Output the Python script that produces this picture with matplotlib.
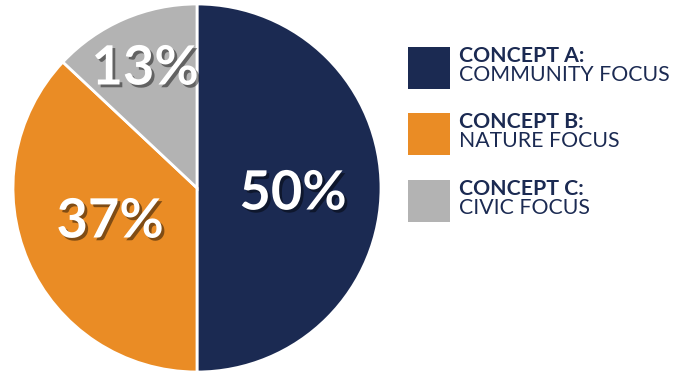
import matplotlib.pyplot as plt
import matplotlib.patheffects as pe
from matplotlib.patches import Rectangle

# data
shares = [50, 37, 13]
pct_labels = ['50%', '37%', '13%']
concepts = ['CONCEPT A:', 'CONCEPT B:', 'CONCEPT C:']
focus = ['COMMUNITY FOCUS', 'NATURE FOCUS', 'CIVIC FOCUS']
colors = ['#1B2A52', '#EA8C25', '#B3B3B3']
navy = '#1B2A52'

W, H = 681, 373
fig = plt.figure(figsize=(W / 100, H / 100), dpi=100)

# pie axes, centre (197, 188) px from top-left, radius 184 px
cx, cy, r = 197, 188, 184
ax = fig.add_axes([(cx - r) / W, (H - cy - r) / H, 2 * r / W, 2 * r / H])
wedges, _ = ax.pie(shares, colors=colors, startangle=90, counterclock=False,
                   radius=1.0, wedgeprops=dict(edgecolor='white', linewidth=2))
ax.set_xlim(-1, 1)
ax.set_ylim(-1, 1)
ax.set_aspect('equal')
ax.axis('off')

shadow = [pe.SimplePatchShadow(offset=(2, -2), shadow_rgbFace='black', alpha=0.45),
          pe.Normal()]
label_pos = [(293, 194), (110, 222), (145, 69)]
for txt, (px, py) in zip(pct_labels, label_pos):
    fig.text(px / W, 1 - py / H, txt, ha='center', va='center', color='white',
             fontsize=39, fontweight='bold', family='Lato', path_effects=shadow)

# legend
sq_tops = [47, 113, 180]
for top, col, c, f in zip(sq_tops, colors, concepts, focus):
    fig.patches.append(Rectangle((408 / W, 1 - (top + 42) / H), 42 / W, 42 / H,
                                 transform=fig.transFigure, facecolor=col,
                                 edgecolor='none'))
    fig.text(459 / W, 1 - (top + 9) / H, c, ha='left', va='center', color=navy,
             fontsize=15.3, fontweight='bold', family='Lato')
    fig.text(459 / W, 1 - (top + 28) / H, f, ha='left', va='center', color=navy,
             fontsize=15.3, family='Lato')

fig.savefig('out.png', dpi=100)
